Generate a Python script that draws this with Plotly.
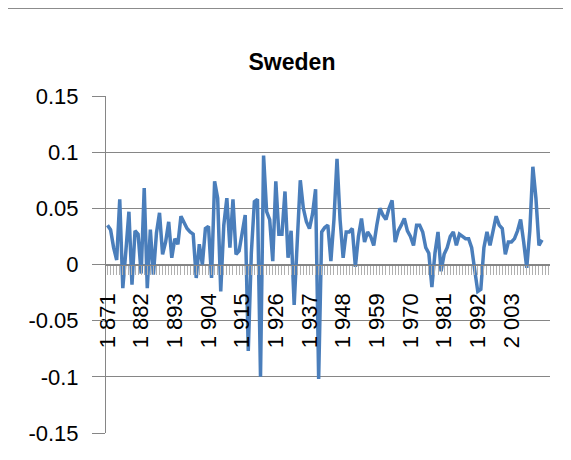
import plotly.graph_objects as go

years = list(range(1871, 2014))
values = [
    0.035, 0.031, 0.015, 0.004, 0.058, -0.021, 0.012, 0.047, -0.018, 0.030,
    0.027, -0.008, 0.068, -0.021, 0.031, -0.009, 0.028, 0.046, 0.009, 0.020,
    0.038, 0.006, 0.023, 0.018, 0.043, 0.038, 0.032, 0.029, 0.027, -0.012,
    0.018, 0.000, 0.032, 0.034, -0.012, 0.074, 0.059, -0.024, 0.035, 0.059,
    0.015, 0.058, 0.009, 0.012, 0.030, 0.044, -0.077, 0.010, 0.056, 0.058,
    -0.100, 0.097, 0.047, 0.040, 0.003, 0.074, 0.027, 0.027, 0.065, 0.006,
    0.030, -0.036, 0.020, 0.075, 0.050, 0.038, 0.032, 0.045, 0.067, -0.102,
    0.029, 0.033, 0.035, 0.003, 0.040, 0.094, 0.040, 0.006, 0.029, 0.029,
    0.032, -0.002, 0.025, 0.041, 0.020, 0.029, 0.025, 0.017, 0.035, 0.050,
    0.044, 0.040, 0.050, 0.057, 0.020, 0.030, 0.035, 0.041, 0.030, 0.025,
    0.017, 0.035, 0.035, 0.029, 0.015, 0.010, -0.020, 0.010, 0.029, -0.006,
    0.009, 0.015, 0.025, 0.029, 0.017, 0.027, 0.025, 0.023, 0.023, 0.015,
    -0.005, -0.024, -0.022, 0.015, 0.029, 0.017, 0.030, 0.043, 0.035, 0.032,
    0.009, 0.020, 0.020, 0.023, 0.030, 0.040, 0.020, -0.003, 0.030, 0.087,
    0.059, 0.017, 0.022,
]
label_years = list(range(1871, 2014, 11))
label_text = ["%d %03d" % (y // 1000, y % 1000) for y in label_years]
y_ticks = [-0.15, -0.1, -0.05, 0, 0.05, 0.1, 0.15]
y_text = ["-0.15", "-0.1", "-0.05", "0", "0.05", "0.1", "0.15"]
title = "Sweden"

OFF = 8  # page body margin
W, H = 571 - OFF, 460 - OFF
L, R, T, B = 106 - OFF, 550 - OFF, 96 - OFF, 433 - OFF
pw, ph = R - L, B - T

def px(x):
    return (x - OFF - L) / pw

def py(y):
    return (B - (y - OFF)) / ph

font = "Liberation Sans, Arial, sans-serif"
gray = "#868686"

fig = go.Figure()
fig.add_trace(go.Scatter(
    x=years, y=values, mode="lines",
    line=dict(color="#4a7ebb", width=3.5),
    showlegend=False, hoverinfo="skip",
))

fig.update_layout(
    width=W, height=H,
    margin=dict(l=L, r=W - R, t=T, b=H - B, pad=0),
    paper_bgcolor="white", plot_bgcolor="white",
    title=dict(text="<b>%s</b>" % title, x=(292 - OFF) / W, y=1 - (62 - OFF) / H,
               xanchor="center", yanchor="middle",
               font=dict(family=font, size=23, color="#000000")),
    xaxis=dict(
        range=[1870.51, 2015.6],
        anchor="free", position=0.5,
        showgrid=False, zeroline=False,
        showline=True, linecolor=gray, linewidth=1,
        tickmode="array", tickvals=label_years, ticktext=label_text,
        tickangle=-90, ticks="outside", ticklen=9, tickcolor="#b0b0b0",
        tickfont=dict(family=font, size=22, color="#000000"),
        ticklabelstandoff=10,
        minor=dict(dtick=1, tick0=1871, ticks="outside", ticklen=9,
                   tickcolor="#b0b0b0", showgrid=False),
    ),
    yaxis=dict(
        range=[-0.15, 0.15],
        tickmode="array", tickvals=y_ticks, ticktext=y_text,
        showgrid=True, gridcolor=gray, gridwidth=1,
        zeroline=False,
        showline=True, linecolor=gray, linewidth=1,
        ticks="outside", ticklen=13, tickcolor=gray,
        tickfont=dict(family=font, size=22, color="#000000"),
        ticklabelstandoff=9,
    ),
    shapes=[dict(type="rect", xref="paper", yref="paper",
                 x0=px(7), x1=px(580), y0=py(470), y1=py(8),
                 line=dict(color="#8c8c8c", width=2), layer="below")],
)

fig.write_html("out.html")
